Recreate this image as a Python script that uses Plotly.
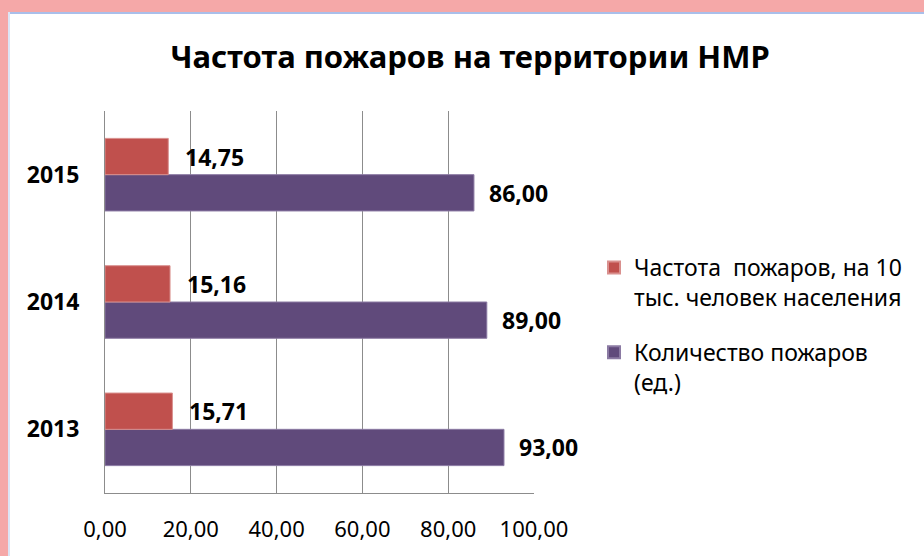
import plotly.graph_objects as go

years = ["2013", "2014", "2015"]
freq = [15.71, 15.16, 14.75]
count = [93.00, 89.00, 86.00]
name_freq = "Частота  пожаров, на 10<br>тыс. человек населения"
name_count = "Количество пожаров<br>(ед.)"
title_text = "Частота пожаров на территории НМР"
xticks = [0, 20, 40, 60, 80, 100]

W, H = 924, 556
L, R, T, B = 105, 534, 111, 493
FONT = "Noto Sans"


def px(x):
    return (x - L) / (R - L)


def py(y):
    return (B - y) / (B - T)


fig = go.Figure()
fig.add_trace(go.Bar(y=years, x=count, orientation="h", name=name_count, legendgroup="c",
                     legendrank=2,
                     marker=dict(color="#604A7B", line=dict(color="#8B7AA3", width=1))))
fig.add_trace(go.Bar(y=years, x=freq, orientation="h", name=name_freq, legendgroup="f",
                     legendrank=1,
                     marker=dict(color="#C0504D", line=dict(color="#D9908E", width=1))))

annotations = []
for i, v in enumerate(freq):
    annotations.append(dict(x=v, y=i, xref="x", yref="y", text=f"{v:.2f}".replace(".", ","),
                            showarrow=False, xanchor="left", yshift=18, xshift=15,
                            font=dict(family=FONT, size=23, color="black", weight="bold")))
for i, v in enumerate(count):
    annotations.append(dict(x=v, y=i, xref="x", yref="y", text=f"{v:.2f}".replace(".", ","),
                            showarrow=False, xanchor="left", yshift=-18, xshift=13,
                            font=dict(family=FONT, size=23, color="black", weight="bold")))

shapes = [
    dict(type="rect", xref="paper", yref="paper", x0=px(0), x1=px(W), y0=py(0), y1=py(12),
         fillcolor="#F5A8A8", line=dict(width=0), layer="below"),
    dict(type="rect", xref="paper", yref="paper", x0=px(0), x1=px(8), y0=py(0), y1=py(H),
         fillcolor="#F5A8A8", line=dict(width=0), layer="below"),
    dict(type="rect", xref="paper", yref="paper", x0=px(8), x1=px(W), y0=py(12), y1=py(14),
         fillcolor="#A9BFEA", line=dict(width=0), layer="below"),
    dict(type="rect", xref="paper", yref="paper", x0=px(8), x1=px(10), y0=py(12), y1=py(H),
         fillcolor="#DCE5F5", line=dict(width=0), layer="below"),
]

fig.update_layout(
    width=W, height=H,
    margin=dict(l=L, r=W - R, t=T, b=H - B, pad=0),
    paper_bgcolor="white", plot_bgcolor="white",
    separators=", ",
    barmode="group", bargap=0.43, bargroupgap=0,
    font=dict(family=FONT, size=22, color="black"),
    title=dict(text=title_text, x=470 / W, xref="container", xanchor="center",
               y=1 - 57 / H, yref="container", yanchor="middle",
               font=dict(family=FONT, size=31, color="black", weight="bold")),
    xaxis=dict(range=[0, 100], tickvals=xticks, tickformat=".2f", showgrid=True,
               gridcolor="#8C8C8C", gridwidth=1, showline=True, linecolor="#8C8C8C",
               linewidth=1, zeroline=False, ticks="", ticklabelstandoff=17,
               tickfont=dict(family=FONT, size=22, color="black")),
    yaxis=dict(type="category", categoryorder="array", categoryarray=years,
               range=[-0.5, len(years) - 0.5],
               showgrid=False, showline=True, linecolor="#8C8C8C", linewidth=1,
               ticks="", ticklabelstandoff=20,
               tickfont=dict(family=FONT, size=23, color="black", weight="bold")),
    legend=dict(x=px(594), y=py(246), xanchor="left", yanchor="top",
                traceorder="grouped", valign="top",
                font=dict(family=FONT, size=23, color="black"), itemsizing="constant",
                tracegroupgap=22, bgcolor="rgba(0,0,0,0)"),
    annotations=annotations,
    shapes=shapes,
    showlegend=True,
)

fig.write_html("out.html", config={"displayModeBar": False},
               post_script="document.body.style.margin='0';")
